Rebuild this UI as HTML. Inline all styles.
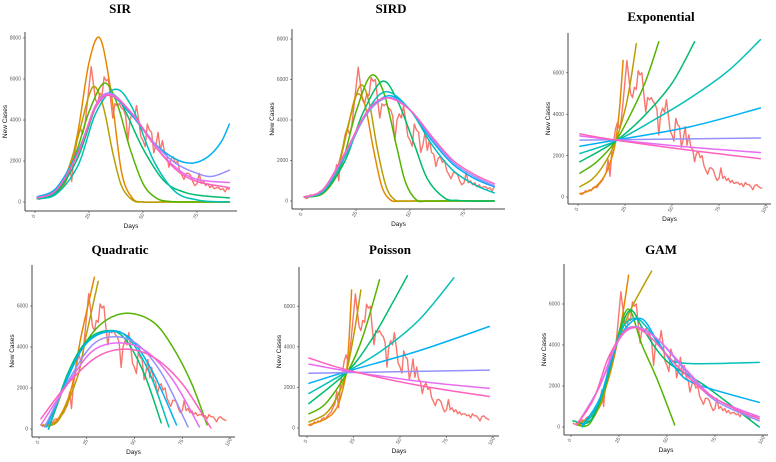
<!DOCTYPE html>
<html><head><meta charset="utf-8">
<style>
html,body{margin:0;padding:0;background:#fff;}
svg{display:block;}
.t{font-family:"Liberation Serif",serif;font-weight:bold;font-size:13px;fill:#000;}
.tk{font-family:"Liberation Sans",sans-serif;font-size:5px;fill:#555;}
.at{font-family:"Liberation Sans",sans-serif;font-size:6.5px;fill:#111;}
</style></head>
<body>
<svg id="fig" width="776" height="462" viewBox="0 0 776 462"></svg>
<script>
// observed daily new cases, day 1..98
const observedCases = [200,120,180,300,250,350,300,450,500,450,
600,700,800,1000,1200,1800,1000,2200,2700,3300,
3600,3300,3700,4600,5600,6600,5800,5000,4800,5300,
5200,6100,5900,6000,5000,4100,4800,4700,4800,4600,
4500,4200,3000,4000,4300,4100,4700,4000,3200,3000,
2700,3800,3500,3400,2400,2800,3400,2500,3000,2400,
2300,1700,2100,2200,1900,2000,1500,1300,1100,1400,
1400,1300,1000,800,900,1400,900,1000,800,900,
700,800,650,700,700,600,650,500,700,600,
600,500,350,550,600,500,450,400];

const yTicksTall = [0,2000,4000,6000,8000];
const yTicksShort = [0,2000,4000,6000];
const xTicksShort = [0,25,50,75];
const xTicksLong = [0,25,50,75,100];

const C = {or:'#E58700',ol:'#B79F00',gr:'#53B400',tg:'#00BC6E',te:'#00C0B8',bl:'#00B0F6',la:'#9590FF',vi:'#E76BF3',pk:'#FF62BC'};

const sirCurves = [
 {c:'or',d:[1,10,15,20,25,30,35,40,45,50,60,75,90],v:[200,500,1200,3500,6800,8000,5500,1500,200,0,0,0,0]},
 {c:'ol',d:[1,10,15,20,25,28,32,36,40,45,50,60,75,90],v:[200,600,1500,3200,5200,5600,4500,2400,800,100,0,0,0,0]},
 {c:'gr',d:[1,10,15,20,25,32,38,44,50,56,62,70,80,90],v:[200,550,1300,2700,4400,5800,4800,2600,900,200,30,0,0,0]},
 {c:'tg',d:[1,10,20,28,34,40,50,60,70,80,90],v:[200,500,2200,4600,5300,4800,2600,1000,450,280,200]},
 {c:'te',d:[1,10,20,28,37,45,55,65,75,83,90],v:[150,400,1800,4300,5500,4600,2000,500,100,20,10]},
 {c:'bl',d:[1,10,20,28,35,45,55,65,73,80,86,90],v:[250,700,2500,4600,5200,4200,2900,2100,1900,2200,2900,3800]},
 {c:'la',d:[1,10,20,28,35,45,55,65,75,82,90],v:[200,600,2400,4700,5300,4300,2900,1900,1400,1250,1550]},
 {c:'vi',d:[1,10,20,28,35,45,55,65,75,90],v:[200,600,2400,4700,5250,4300,2800,1700,1100,950]},
 {c:'pk',d:[1,10,20,28,35,45,55,65,75,90],v:[200,600,2400,4600,5200,4300,2800,1600,1000,700]}
];
const sirdCurves = [
 {c:'or',d:[1,10,16,21,25,29,33,37,41,45,55,70,89],v:[200,400,1400,3500,5200,4800,2600,700,50,0,0,0,0]},
 {c:'ol',d:[1,10,16,22,27,31,35,39,43,47,57,72,89],v:[200,400,1500,4000,5700,4900,2500,700,50,0,0,0,0]},
 {c:'gr',d:[1,10,18,25,32,38,44,48,53,58,68,80,89],v:[200,400,1700,4400,6200,5300,2600,900,50,0,0,0,0]},
 {c:'tg',d:[1,10,20,28,37,44,52,58,66,72,80,89],v:[200,450,2000,4300,5900,5000,2800,1100,150,30,0,0]},
 {c:'te',d:[1,10,20,30,39,50,60,70,80,89],v:[200,500,2200,4400,5400,4500,2800,1500,800,400]},
 {c:'bl',d:[1,10,20,30,40,50,60,70,80,89],v:[200,550,2300,4300,5200,4500,3000,1800,1100,700]},
 {c:'la',d:[1,10,20,30,40,50,60,70,80,89],v:[200,550,2300,4300,5100,4500,3100,1900,1200,750]},
 {c:'pk',d:[1,10,20,30,39,50,60,70,80,89],v:[200,600,2400,4400,5100,4500,3200,2000,1300,850]}
];
const expCurves = [
 {c:'or',d:[1,8,14,18,20,22,24],v:[150,400,1000,1900,2700,4200,6600]},
 {c:'ol',d:[1,8,14,20,25,28,31],v:[500,900,1600,2700,4200,5600,7400]},
 {c:'gr',d:[1,10,20,28,36,43],v:[1150,1700,2700,4000,5600,7500]},
 {c:'tg',d:[1,20,35,50,62],v:[1700,2700,3900,5500,7500]},
 {c:'te',d:[1,20,40,60,80,97],v:[2100,2700,3700,4800,6100,7600]},
 {c:'bl',d:[1,20,60,97],v:[2450,2750,3400,4300]},
 {c:'la',d:[1,97],v:[2750,2850]},
 {c:'vi',d:[1,20,60,97],v:[2950,2760,2400,2150]},
 {c:'pk',d:[1,20,60,97],v:[3050,2750,2250,1850]}
];
const quadCurves = [
 {c:'or',d:[3,10,17,22,29],v:[100,500,2000,4500,7400]},
 {c:'ol',d:[1,10,20,25,31],v:[200,400,2500,4700,7200]},
 {c:'gr',d:[5,15,25,35,47,60,70,80,88],v:[0,2500,4300,5300,5650,5200,4000,2200,200]},
 {c:'tg',d:[5,15,25,36,45,55,64],v:[0,2700,4300,4800,4400,2700,300]},
 {c:'te',d:[5,15,25,37,47,58,68],v:[0,2600,4200,4800,4400,2700,100]},
 {c:'bl',d:[4,15,25,37,48,60,72],v:[100,2500,4200,4750,4400,2700,200]},
 {c:'la',d:[3,15,28,40,52,65,78],v:[100,2300,4100,4500,4100,2600,100]},
 {c:'vi',d:[1,15,28,42,56,70,84],v:[200,2200,3800,4200,3800,2400,100]},
 {c:'pk',d:[1,15,30,45,60,75,90],v:[500,2200,3500,3900,3500,2200,50]}
];
const poisCurves = [
 {c:'or',d:[1,10,16,20,22,24],v:[150,450,1000,2200,3500,6800]},
 {c:'ol',d:[1,10,16,21,25,29],v:[300,700,1500,2700,4500,6800]},
 {c:'gr',d:[1,10,22,30,39],v:[700,1200,2800,4500,7300]},
 {c:'tg',d:[1,22,35,45,54],v:[1200,2800,4400,6000,7500]},
 {c:'te',d:[1,22,40,60,79],v:[1700,2800,3800,5300,7400]},
 {c:'bl',d:[1,22,60,98],v:[2200,2800,3800,5000]},
 {c:'la',d:[1,98],v:[2700,2850]},
 {c:'vi',d:[1,22,60,98],v:[3150,2800,2300,1950]},
 {c:'pk',d:[1,22,60,98],v:[3450,2850,2100,1550]}
];
const gamCurves = [
 {c:'or',d:[3,12,20,26,30],v:[100,500,2500,5000,7400]},
 {c:'ol',d:[3,15,22,30,36,42],v:[100,1000,3500,5500,6600,7600]},
 {c:'gr',d:[3,10,18,24,30,37,45,54],v:[100,200,2000,4300,5750,4000,2300,100]},
 {c:'tg',d:[1,10,18,25,31,38,50,70,98],v:[300,300,2100,4500,5700,4700,3200,2000,0]},
 {c:'te',d:[6,15,25,33,40,50,60,98],v:[0,1300,4500,5300,4800,3500,3100,3150]},
 {c:'bl',d:[6,15,25,36,45,55,65,98],v:[100,1400,4300,5300,4200,2800,2100,1200]},
 {c:'la',d:[3,15,25,33,45,60,75,98],v:[100,2000,4300,4900,4300,2700,1300,300]},
 {c:'vi',d:[3,14,24,33,45,60,75,98],v:[100,1800,4100,4850,4300,2800,1400,500]},
 {c:'pk',d:[3,12,20,30,40,55,70,85,98],v:[100,1400,3500,4800,4500,3000,1700,900,400]}
];

const panels = [
 {id:'sir',title:'SIR',tx:120,ty:13,L:25,B:211,R:237,T:32,x0:35,kx:2.16,y0:202,ky:0.0205,yt:yTicksTall,xt:xTicksShort,n:90,curves:sirCurves},
 {id:'sird',title:'SIRD',tx:391,ty:13,L:292,B:209,R:505,T:29,x0:302,kx:2.16,y0:201,ky:0.02025,yt:yTicksTall,xt:xTicksShort,n:89,curves:sirdCurves},
 {id:'exponential',title:'Exponential',tx:661,ty:21,L:568,B:204,R:771,T:33,x0:578,kx:1.88,y0:197,ky:0.0207,yt:yTicksShort,xt:xTicksLong,n:98,curves:expCurves},
 {id:'quadratic',title:'Quadratic',tx:120,ty:254,L:32,B:437,R:235,T:265,x0:39,kx:1.91,y0:429,ky:0.0205,yt:yTicksShort,xt:xTicksLong,n:98,curves:quadCurves},
 {id:'poisson',title:'Poisson',tx:390,ty:254,L:299,B:436,R:499,T:267,x0:307,kx:1.86,y0:428,ky:0.0203,yt:yTicksShort,xt:xTicksLong,n:98,curves:poisCurves},
 {id:'gam',title:'GAM',tx:661,ty:254,L:564,B:435,R:768,T:264,x0:571,kx:1.92,y0:427,ky:0.0205,yt:yTicksShort,xt:xTicksLong,n:98,curves:gamCurves}
];

const NS='http://www.w3.org/2000/svg';
const svg=document.getElementById('fig');
function mk(tag,attrs,parent){const e=document.createElementNS(NS,tag);for(const k in attrs)e.setAttribute(k,attrs[k]);(parent||svg).appendChild(e);return e;}
function smooth(pts){
  if(pts.length<3)return 'M'+pts.map(p=>p[0].toFixed(1)+','+p[1].toFixed(1)).join('L');
  let d='M'+pts[0][0].toFixed(1)+','+pts[0][1].toFixed(1);
  for(let i=0;i<pts.length-1;i++){
    const p0=pts[Math.max(0,i-1)],p1=pts[i],p2=pts[i+1],p3=pts[Math.min(pts.length-1,i+2)];
    const c1=[p1[0]+(p2[0]-p0[0])/6,p1[1]+(p2[1]-p0[1])/6];
    const c2=[p2[0]-(p3[0]-p1[0])/6,p2[1]-(p3[1]-p1[1])/6];
    d+='C'+c1[0].toFixed(1)+','+c1[1].toFixed(1)+' '+c2[0].toFixed(1)+','+c2[1].toFixed(1)+' '+p2[0].toFixed(1)+','+p2[1].toFixed(1);
  }
  return d;
}

panels.forEach(p=>{
  const xs=d=>p.x0+d*p.kx, ys=v=>p.y0-v*p.ky;
  const g=mk('g',{});
  
  
  const t=mk('text',{x:p.tx,y:p.ty,'text-anchor':'middle',class:'t'},g);t.textContent=p.title;
  
  
  const ay=mk('line',{x1:p.L,y1:p.T,x2:p.L,y2:p.B,stroke:'#444','stroke-width':1},g);
  
  
  const ax=mk('line',{x1:p.L,y1:p.B,x2:p.R,y2:p.B,stroke:'#444','stroke-width':1},g);
  
  
  p.yt.forEach(v=>{
    const y=ys(v);
    mk('line',{x1:p.L-2,y1:y,x2:p.L,y2:y,stroke:'#444','stroke-width':0.6},g);
    const l=mk('text',{x:p.L-4,y:y+1.7,'text-anchor':'end',class:'tk'},g);l.textContent=v;
    
    
  });
  p.xt.forEach(v=>{
    const x=xs(v);
    mk('line',{x1:x,y1:p.B,x2:x,y2:p.B+2,stroke:'#444','stroke-width':0.6},g);
    const l=mk('text',{x:x,y:p.B+6,'text-anchor':'middle',class:'tk',transform:'rotate(-60 '+x+' '+(p.B+6)+')'},g);l.textContent=v;
    
    
  });
  const xl=mk('text',{x:(p.L+p.R)/2,y:p.B+17,'text-anchor':'middle',class:'at'},g);xl.textContent='Days';
  
  
  const yx=p.L-18, yy=(p.T+p.B)/2;
  const yl=mk('text',{x:yx,y:yy,'text-anchor':'middle',class:'at',transform:'rotate(-90 '+yx+' '+yy+')'},g);yl.textContent='New Cases';
  
  
  const obs=observedCases.slice(0,p.n).map((v,i)=>[xs(i+1),ys(v)]);
  const op=mk('path',{d:'M'+obs.map(q=>q[0].toFixed(1)+','+q[1].toFixed(1)).join('L'),fill:'none',stroke:'#F8766D','stroke-width':1.4,'stroke-linejoin':'round'},g);
  
  
  p.curves.forEach((c,k)=>{
    const pts=c.d.map((d,i)=>[xs(d),ys(c.v[i])]);
    const cp=mk('path',{d:smooth(pts),fill:'none',stroke:C[c.c],'stroke-width':1.5,'stroke-linecap':'round'},g);
    
    
  });
});
</script>
</body></html>
